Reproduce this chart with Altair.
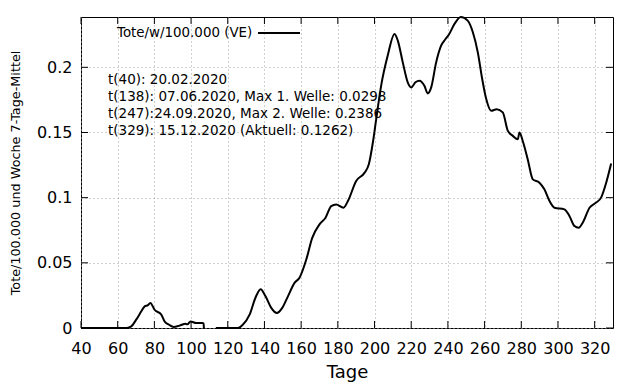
import altair as alt
import pandas as pd

# first wave segment (ends before data gap)
seg1_t = [40, 65, 67.4, 70.1, 72.9, 74.7, 76.5, 77.8, 80.1, 83.8, 85.6, 88, 90.5,
          93.7, 97, 98, 99.7, 102.8, 106.1, 106.8, 107]
seg1_v = [0, 0, 0.0012, 0.0064, 0.0128, 0.0166, 0.0175, 0.0192, 0.014, 0.0102, 0.005,
          0.0025, 0.0008, 0.0018, 0.0033, 0.0028, 0.005, 0.0038, 0.0038, 0.0035, 0]

# second segment
seg2_t = [113.5, 125.5, 128.2, 131.9, 135.2, 137.9, 140.6, 143.7, 146.8, 149.7, 152.8,
          156.4, 159.1, 162.8, 166, 170, 173.3, 176.4, 179.1, 183.1, 185.5, 190, 194.5,
          196.9, 199.1, 200.9, 203.6, 207.2, 210.9, 212.7, 215.4, 218.1, 220, 222.3,
          224.5, 227.2, 229, 230.9, 233.6, 236.3, 238.6, 240.5, 243.6, 247, 250.8, 253.6,
          256.3, 258.7, 260.9, 263.6, 266.6, 269.9, 272.7, 275.4, 278.1, 279, 280.8,
          283.5, 286.3, 289.9, 292.6, 295.4, 298.1, 303.5, 306.3, 309, 311.3, 313.5,
          317.2, 320.8, 323.5, 326.3, 329]
seg2_v = [0, 0, 0.0025, 0.0102, 0.0236, 0.0298, 0.0243, 0.0154, 0.0115, 0.0154, 0.0243,
          0.0346, 0.0385, 0.0525, 0.069, 0.0795, 0.0846, 0.0935, 0.0948, 0.0923, 0.0974,
          0.1128, 0.119, 0.1256, 0.1423, 0.160, 0.1858, 0.209, 0.2256, 0.2205, 0.2038,
          0.1885, 0.1846, 0.1885, 0.1897, 0.1858, 0.180, 0.1846, 0.2038, 0.2166, 0.2215,
          0.2250, 0.2333, 0.2386, 0.2358, 0.2269, 0.2115, 0.191, 0.1756, 0.1666, 0.1679,
          0.1654, 0.1512, 0.1474, 0.1448, 0.15, 0.1435, 0.1295, 0.114, 0.1115, 0.1064,
          0.0974, 0.0923, 0.091, 0.0858, 0.0782, 0.0769, 0.0808, 0.0923, 0.0962, 0.1,
          0.1115, 0.1262]

x_ticks = list(range(40, 321, 20))
y_ticks = [0, 0.05, 0.1, 0.15, 0.2]

notes = [
    "t(40): 20.02.2020",
    "t(138): 07.06.2020, Max 1. Welle: 0.0298",
    "t(247):24.09.2020, Max 2. Welle: 0.2386",
    "t(329): 15.12.2020 (Aktuell: 0.1262)",
]
legend_label = "Tote/w/100.000 (VE)"
x_title = "Tage"
y_title = "Tote/100.000 und Woche 7-Tage-Mittel"

W, H = 532, 311
FONT = "DejaVu Sans"

df = pd.DataFrame({
    "t": seg1_t + seg2_t,
    "v": seg1_v + seg2_v,
    "seg": [1] * len(seg1_t) + [2] * len(seg2_t),
})

xs = alt.Scale(domain=[40, 330], nice=False, zero=False)
ys = alt.Scale(domain=[0, 0.2386], nice=False)
x_axis = alt.Axis(values=x_ticks, title=x_title)
y_axis = alt.Axis(values=y_ticks, title=y_title, format=".2~f")

line = alt.Chart(df).mark_line(color="black", strokeWidth=2, interpolate="monotone").encode(
    x=alt.X("t:Q", scale=xs, axis=x_axis),
    y=alt.Y("v:Q", scale=ys, axis=y_axis),
    detail="seg:N",
)

xt_df = pd.DataFrame({"t": x_ticks})
yt_df = pd.DataFrame({"v": y_ticks})
tick_bottom = alt.Chart(xt_df).mark_rule(color="black").encode(
    x=alt.X("t:Q", scale=xs, axis=x_axis), y=alt.value(H), y2=alt.value(H - 7))
tick_top = alt.Chart(xt_df).mark_rule(color="black").encode(
    x=alt.X("t:Q", scale=xs, axis=x_axis), y=alt.value(0), y2=alt.value(7))
tick_left = alt.Chart(yt_df).mark_rule(color="black").encode(
    y=alt.Y("v:Q", scale=ys, axis=y_axis), x=alt.value(0), x2=alt.value(7))
tick_right = alt.Chart(yt_df).mark_rule(color="black").encode(
    y=alt.Y("v:Q", scale=ys, axis=y_axis), x=alt.value(W), x2=alt.value(W - 7))

layers = [line, tick_bottom, tick_top, tick_left, tick_right]

for i, s in enumerate(notes):
    layers.append(
        alt.Chart(pd.DataFrame({"s": [s]})).mark_text(
            align="left", baseline="middle", fontSize=13.5, font=FONT, color="black"
        ).encode(text="s:N", x=alt.value(27), y=alt.value(63 + i * 17))
    )

layers.append(
    alt.Chart(pd.DataFrame({"s": [legend_label]})).mark_text(
        align="left", baseline="middle", fontSize=13.4, font=FONT, color="black"
    ).encode(text="s:N", x=alt.value(36), y=alt.value(16))
)
layers.append(
    alt.Chart(pd.DataFrame({"s": [legend_label]})).mark_rule(color="black", strokeWidth=2).encode(
        x=alt.value(177), x2=alt.value(219), y=alt.value(16))
)

chart = alt.layer(*layers).properties(
    width=W, height=H,
    background="white",
    autosize=alt.AutoSizeParams(type="none"),
    padding={"left": 73, "top": 9, "right": 19, "bottom": 56},
).configure_view(
    stroke="black", strokeWidth=1
).configure_axis(
    grid=True, gridColor="#a0a0a0", gridDash=[1, 3], gridWidth=1,
    ticks=False, domain=False,
    labelColor="black", titleColor="black", labelFont=FONT, titleFont=FONT,
    labelFlush=False, labelOverlap=False, titleFontWeight="normal",
).configure_axisX(
    labelFontSize=16, labelPadding=12, titleFontSize=18, titlePadding=7,
).configure_axisY(
    labelFontSize=16, labelPadding=9, titleFontSize=12.8, titlePadding=14,
)

chart.save("out.html", embed_options={"renderer": "svg", "actions": False})
